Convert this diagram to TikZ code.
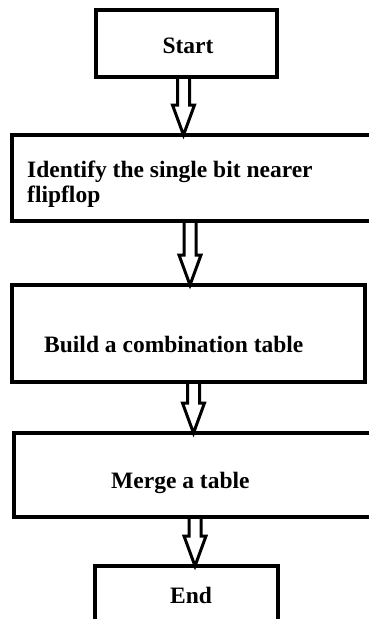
\documentclass[tikz,border=0pt]{standalone}
\usepackage{fontspec}
\setmainfont{Liberation Serif}
\usetikzlibrary{calc}

% hollow block arrow from the lower side of #1 to the upper side of #2, at the x of #3
\newcommand{\hollowarrow}[3]{%
  \draw[arrowline] let \p1=(#1.south -| #3), \p2=(#2.north -| #3) in
    (\x1-6pt,\y1) -- (\x1-6pt,\y2+30pt) -- (\x1-11pt,\y2+30pt) -- (\x2,\y2)
    -- (\x1+11pt,\y2+30pt) -- (\x1+6pt,\y2+30pt) -- (\x1+6pt,\y1);
}

\begin{document}
\begin{tikzpicture}[
    x=1pt, y=-1pt,
    box/.style={rectangle, draw, line width=4pt, outer sep=0pt, inner sep=0pt},
    steptext/.style={inner sep=0pt, font=\fontsize{23.5}{25}\selectfont\bfseries},
    arrowline/.style={line width=3pt, line join=miter}
]
\useasboundingbox (0,0) rectangle (369,619);
\clip (0,0) rectangle (369,619);

% boxes
\node[box, minimum width=181pt, minimum height=67pt] (start) at (186.5,43.5) {};
\node[box, minimum width=368pt, minimum height=86pt] (identify) at (196,178) {};
\node[box, minimum width=353pt, minimum height=97pt] (build) at (188.5,333.5) {};
\node[box, minimum width=366pt, minimum height=84pt] (merge) at (197,475) {};
\node[box, minimum width=183pt, minimum height=64pt] (finish) at (186.5,598) {};

% texts
\node[steptext, anchor=base] (starttext) at (188,53) {Start};
\node[steptext, anchor=north west, align=left] (identifytext) at (27,161)
    {Identify the single bit nearer\\flipflop};
\node[steptext, anchor=base west] (buildtext) at (44,352) {Build a combination table};
\node[steptext, anchor=base west] (mergetext) at (111,488) {Merge a table};
\node[steptext, anchor=base] (finishtext) at (191,603) {End};

% arrows
\coordinate (a1) at (183.5,0);
\coordinate (a2) at (190,0);
\coordinate (a3) at (193.5,0);
\coordinate (a4) at (195,0);
\hollowarrow{start}{identify}{a1}
\hollowarrow{identify}{build}{a2}
\hollowarrow{build}{merge}{a3}
\hollowarrow{merge}{finish}{a4}
\end{tikzpicture}
\end{document}
